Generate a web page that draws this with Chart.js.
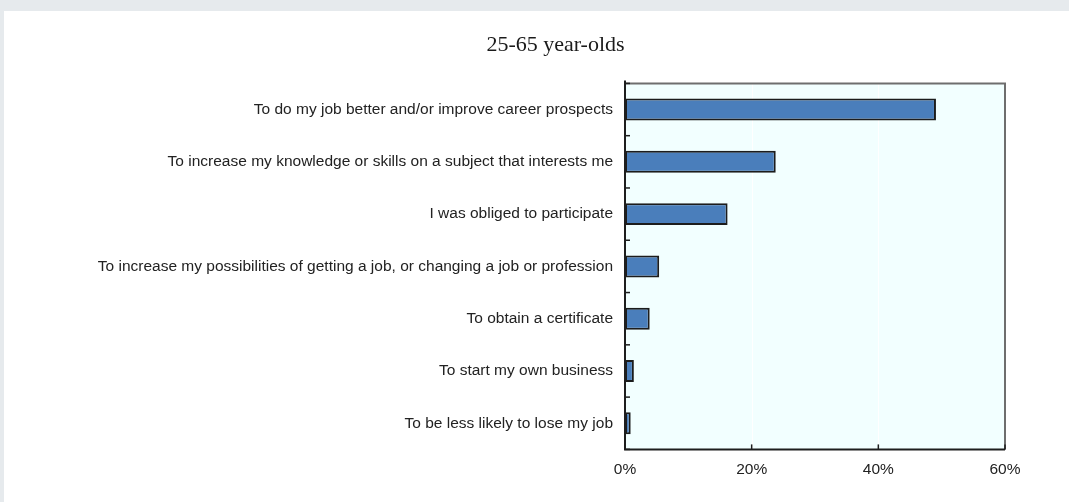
<!DOCTYPE html>
<html>
<head>
<meta charset="utf-8">
<script src="https://cdn.jsdelivr.net/npm/chart.js@4.4.1/dist/chart.umd.min.js"></script>
<style>
  html, body { margin: 0; padding: 0; background: #e6eaed; }
  #card { position: absolute; left: 4px; top: 11px; width: 1065px; height: 491px; background: #fff; }
  #wrap { position: absolute; left: 0; top: 0; width: 1069px; height: 502px; }
</style>
</head>
<body>
<div id="card"></div>
<div id="wrap"><canvas id="myChart"></canvas></div>
<script>
// reasons for participating in adult learning, 25-65 year-olds
const reasons = [
    'To do my job better and/or improve career prospects',
    'To increase my knowledge or skills on a subject that interests me',
    'I was obliged to participate',
    'To increase my possibilities of getting a job, or changing a job or profession',
    'To obtain a certificate',
    'To start my own business',
    'To be less likely to lose my job'
];
const shares = [49.1, 23.8, 16.2, 5.4, 3.9, 1.4, 0.9];
const xTicks = [0, 20, 40, 60];
const chartTitle = '25-65 year-olds';

// plot background + frame + inward tick marks
const framePlugin = {
    id: 'frame',
    afterLayout(chart) {
        // nudge title so it sits where the original has it
        chart.titleBlock.left += 12;
    },
    beforeDatasetsDraw(chart) {
        const a = chart.chartArea;
        const ctx = chart.ctx;
        ctx.save();
        ctx.fillStyle = '#f2ffff';
        ctx.fillRect(a.left, a.top, a.right - a.left, a.bottom - a.top);
        // faint grid
        ctx.strokeStyle = '#ffffff';
        ctx.lineWidth = 1;
        const xs = chart.scales.x;
        xTicks.slice(1, -1).forEach(v => {
            const px = Math.round(xs.getPixelForValue(v)) + 0.5;
            ctx.beginPath();
            ctx.moveTo(px, a.top);
            ctx.lineTo(px, a.bottom);
            ctx.stroke();
        });
        ctx.restore();
    },
    afterDatasetsDraw(chart) {
        const a = chart.chartArea;
        const ctx = chart.ctx;
        const xs = chart.scales.x;
        const ys = chart.scales.y;
        ctx.save();
        ctx.lineWidth = 2;
        ctx.strokeStyle = '#6e6e6e';
        ctx.beginPath();
        ctx.moveTo(a.left, a.top);
        ctx.lineTo(a.right, a.top);
        ctx.lineTo(a.right, a.bottom);
        ctx.stroke();
        ctx.strokeStyle = '#1e1e1e';
        ctx.beginPath();
        ctx.moveTo(a.left, a.top - 3);
        ctx.lineTo(a.left, a.bottom);
        ctx.lineTo(a.right, a.bottom);
        ctx.stroke();
        ctx.lineWidth = 1.5;
        for (let i = 0; i <= reasons.length; i++) {
            const py = ys.getPixelForValue(i - 0.5);
            ctx.beginPath();
            ctx.moveTo(a.left, py);
            ctx.lineTo(a.left + 5, py);
            ctx.stroke();
        }
        xTicks.forEach(v => {
            const px = xs.getPixelForValue(v);
            ctx.beginPath();
            ctx.moveTo(px, a.bottom);
            ctx.lineTo(px, a.bottom - 5);
            ctx.stroke();
        });
        ctx.restore();
    }
};

const ctx = document.getElementById('myChart').getContext('2d');
const myChart = new Chart(ctx, {
    type: 'bar',
    data: {
        labels: reasons,
        datasets: [{
            label: 'Share',
            data: shares,
            backgroundColor: '#4a7ebb',
            borderColor: '#1c1c1c',
            borderWidth: 2,
            borderSkipped: false,
            barPercentage: 0.42,
            categoryPercentage: 1
        }]
    },
    options: {
        indexAxis: 'y',
        responsive: true,
        maintainAspectRatio: false,
        animation: false,
        layout: { padding: { left: 94, right: 64, top: 0, bottom: 12 } },
        plugins: {
            legend: { display: false },
            tooltip: { enabled: false },
            title: {
                display: true,
                text: chartTitle,
                color: '#1a1a1a',
                font: { family: 'Liberation Serif', size: 22, weight: 'normal' },
                padding: { top: 32, bottom: 25 }
            }
        },
        scales: {
            x: {
                min: 0,
                max: 60,
                afterBuildTicks: s => { s.ticks = xTicks.map(v => ({ value: v })); },
                grid: { display: false, drawTicks: false },
                border: { display: false },
                ticks: {
                    padding: 11,
                    color: '#222',
                    font: { family: 'Liberation Sans', size: 15.5 },
                    callback: v => v + '%'
                }
            },
            y: {
                afterFit: s => { s.width = 531; },
                grid: { display: false, drawTicks: false },
                border: { display: false },
                ticks: {
                    padding: 12,
                    color: '#222',
                    font: { family: 'Liberation Sans', size: 15.5 }
                }
            }
        }
    },
    plugins: [framePlugin]
});
</script>
</body>
</html>
